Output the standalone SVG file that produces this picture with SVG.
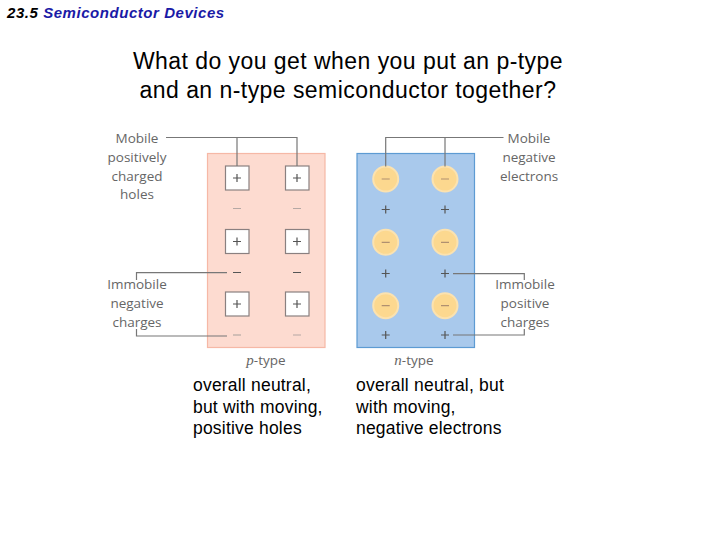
<svg xmlns="http://www.w3.org/2000/svg" width="720" height="540" viewBox="0 0 720 540">
<style>
.hdr{font-family:"Liberation Sans",Arial,sans-serif;font-style:italic;font-weight:bold;font-size:15px;letter-spacing:0.55px}
.title{font-family:"Liberation Sans",Arial,sans-serif;font-size:23px;letter-spacing:0.45px;fill:#000;text-anchor:middle}
.note{font-family:"Liberation Sans",Arial,sans-serif;font-size:17.5px;letter-spacing:0.2px;fill:#000}
.lab{font-family:"Open Sans","DejaVu Sans",sans-serif;font-size:13.5px;fill:#666;text-anchor:middle}
.typ{font-family:"Open Sans","DejaVu Sans",sans-serif;font-size:13.5px;fill:#666;text-anchor:middle}
.typ tspan.i{font-family:"Liberation Serif",serif;font-style:italic;font-size:15px}
.lead{fill:none;stroke:#777;stroke-width:1.2}
.sq{fill:#fff;stroke:#8a8080;stroke-width:1.2}
.ci{fill:#fcd88f;stroke:#fbe2b0;stroke-width:2}
.sym{stroke:#555;stroke-width:1.2;fill:none}
.symg{stroke:#b5a8a4;stroke-width:1.2;fill:none}
</style>
<text class="hdr" x="7" y="18"><tspan fill="#000">23.5 </tspan><tspan fill="#1a1aa6">Semiconductor Devices</tspan></text>
<text class="title" x="348" y="69">What do you get when you put an p-type</text>
<text class="title" x="348" y="98">and an n-type semiconductor together?</text>

<g id="p-block">
<rect x="207.5" y="153.5" width="117.5" height="194" fill="#fddbd0" stroke="#f6b8a6" stroke-width="1.2"/>
<g id="p-holes">
<rect class="sq" x="225.5" y="166" width="23.5" height="24"/>
<rect class="sq" x="285.5" y="166" width="23.5" height="24"/>
<rect class="sq" x="225.5" y="229.5" width="23.5" height="24"/>
<rect class="sq" x="285.5" y="229.5" width="23.5" height="24"/>
<rect class="sq" x="225.5" y="292" width="23.5" height="24"/>
<rect class="sq" x="285.5" y="292" width="23.5" height="24"/>
<path class="sym" d="M233 178h8M237 174v8M293 178h8M297 174v8M233 241.5h8M237 237.5v8M293 241.5h8M297 237.5v8M233 304h8M237 300v8M293 304h8M297 300v8"/>
</g>
<path class="symg" d="M233 208.5h8M293 208.5h8M293 335h8"/>
<path class="sym" d="M233 272.5h8M293 272.5h8"/>
<path class="symg" d="M233 335h8"/>
<text class="typ" x="266" y="365"><tspan class="i">p</tspan>-type</text>
</g>

<g id="n-block">
<rect x="357" y="153.5" width="117.5" height="194" fill="#a9c9ec" stroke="#5d9bd3" stroke-width="1.2"/>
<circle class="ci" cx="385.7" cy="179" r="12.5"/>
<circle class="ci" cx="445" cy="179" r="12.5"/>
<circle class="ci" cx="385.7" cy="242.3" r="12.5"/>
<circle class="ci" cx="445" cy="242.3" r="12.5"/>
<circle class="ci" cx="385.7" cy="305.7" r="12.5"/>
<circle class="ci" cx="445" cy="305.7" r="12.5"/>
<path stroke="#b09070" stroke-width="1.2" d="M381.7 179h8M441 179h8M381.7 242.3h8M441 242.3h8M381.7 305.7h8M441 305.7h8"/>
<path class="sym" d="M381.7 209.5h8M385.7 205.5v8M441 209.5h8M445 205.5v8M381.7 273.5h8M385.7 269.5v8M441 273.5h8M445 269.5v8M381.7 335h8M385.7 331v8M441 335h8M445 331v8"/>
<text class="typ" x="414" y="365"><tspan class="i">n</tspan>-type</text>
</g>

<g id="connectors">
<path class="lead" d="M166 137.5H297V166M237 137.5V166"/>
<path class="lead" d="M136.5 280V272.7H227M136.5 329V336H227"/>
<path class="lead" d="M503.5 137.5H385.7V166.5M445 137.5V166.5"/>
<path class="lead" d="M453 273.7H524.3V280M453 335H524.3V329"/>
</g>

<g id="label-mobile-holes">
<text class="lab" x="137" y="143">Mobile</text>
<text class="lab" x="137" y="162">positively</text>
<text class="lab" x="137" y="181">charged</text>
<text class="lab" x="137" y="199">holes</text>
</g>
<g id="label-immobile-neg">
<text class="lab" x="137" y="289">Immobile</text>
<text class="lab" x="137" y="308">negative</text>
<text class="lab" x="137" y="327">charges</text>
</g>
<g id="label-mobile-electrons">
<text class="lab" x="529" y="143">Mobile</text>
<text class="lab" x="529" y="162">negative</text>
<text class="lab" x="529" y="181">electrons</text>
</g>
<g id="label-immobile-pos">
<text class="lab" x="525" y="289">Immobile</text>
<text class="lab" x="525" y="308">positive</text>
<text class="lab" x="525" y="327">charges</text>
</g>

<g id="notes">
<text class="note" x="193" y="391">overall neutral,</text>
<text class="note" x="193" y="412.5">but with moving,</text>
<text class="note" x="193" y="434">positive holes</text>
<text class="note" x="356" y="391">overall neutral, but</text>
<text class="note" x="356" y="412.5">with moving,</text>
<text class="note" x="356" y="434">negative electrons</text>
</g>
</svg>
